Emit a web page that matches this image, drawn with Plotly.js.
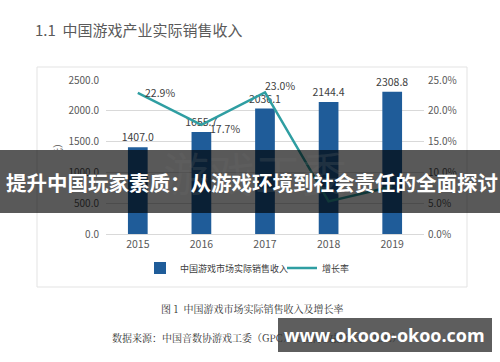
<!DOCTYPE html>
<html>
<head>
<meta charset="utf-8">
<script src="https://cdn.plot.ly/plotly-3.0.1.min.js"></script>
<style>html,body{margin:0;padding:0;background:#fff;}#chart{width:500px;height:362px;}</style>
</head>
<body>
<div id="chart"></div>
<script>
const years = ['2015', '2016', '2017', '2018', '2019'];
const revenue = [1407.0, 1655.7, 2036.1, 2144.4, 2308.8];
const growth = [0.229, 0.177, 0.230, 0.053, 0.077];
const growthLabels = ['22.9%', '17.7%', '23.0%'];
const revenueName = '中国游戏市场实际销售收入';
const growthName = '增长率';
const yTicks = [0, 500, 1000, 1500, 2000, 2500];
const y2Ticks = [0, 0.05, 0.10, 0.15, 0.20, 0.25];

const CJK = '"Noto Sans CJK SC", "Noto Sans", sans-serif';
const SERIF = '"Noto Serif CJK SC", "Noto Sans CJK SC", serif';

const traces = [
  {
    type: 'bar', x: years, y: revenue, name: revenueName,
    marker: {color: '#1f5c99'}, width: 0.31,
    text: revenue.map(v => v.toFixed(1)), textposition: 'outside', cliponaxis: false,
    constraintext: 'none',
    textfont: {family: CJK, size: 10.5, color: '#404040'},
    hoverinfo: 'skip'
  },
  {
    type: 'scatter', mode: 'lines', x: years, y: growth, name: growthName, yaxis: 'y2',
    line: {color: '#2f9ea2', width: 2.5},
    cliponaxis: false, hoverinfo: 'skip'
  }
];

const L = 106, R = 424, B = 234, T = 80;
function px2x(p) { return (p - L) / (R - L); }
function px2y(p) { return (B - p) / (B - T); }

// offsets for growth-rate labels (style only); x uses category index on the category axis
const growthLabelShift = [[5, 0], [7, -4], [-2, 7]];
const growthAnnotations = growthLabels.map((t, i) => ({
  text: t, x: years.indexOf(years[i]), y: growth[i], xref: 'x', yref: 'y2',
  xanchor: 'left', yanchor: 'middle', showarrow: false,
  xshift: growthLabelShift[i][0], yshift: growthLabelShift[i][1],
  font: {family: CJK, size: 10.5, color: '#404040'}
}));

const layout = {
  width: 500, height: 362,
  margin: {l: L, r: 500 - R, t: T, b: 362 - B},
  paper_bgcolor: '#ffffff', plot_bgcolor: '#ffffff',
  showlegend: true,
  title: {
    text: '1.1  中国游戏产业实际销售收入',
    x: 0.07, xanchor: 'left', xref: 'container',
    y: 1 - 31 / 362, yanchor: 'middle', yref: 'container',
    font: {family: CJK, size: 15, color: '#5a5a5a'}
  },
  legend: {
    orientation: 'h', x: px2x(282), xanchor: 'center', y: px2y(268), yanchor: 'middle',
    font: {family: CJK, size: 9, color: '#404040'}, itemwidth: 30, tracegroupgap: 0,
    entrywidth: 97, entrywidthmode: 'pixels'
  },
  xaxis: {
    type: 'category', categoryarray: years, range: [-0.5, 4.5],
    showgrid: false, showline: true, linecolor: '#d9d9d9', linewidth: 1,
    ticks: '', tickfont: {family: CJK, size: 10.5, color: '#595959'}
  },
  yaxis: {
    range: [0, 2500], tickvals: yTicks, ticktext: yTicks.map(v => v.toFixed(1)),
    showgrid: true, gridcolor: '#d9d9d9', gridwidth: 1, zeroline: false,
    tickfont: {family: CJK, size: 10, color: '#595959'}, ticklabelstandoff: 6
  },
  yaxis2: {
    overlaying: 'y', side: 'right', range: [0, 0.25], tickvals: y2Ticks,
    ticktext: y2Ticks.map(v => (v * 100).toFixed(1) + '%'),
    showgrid: false, zeroline: false,
    tickfont: {family: CJK, size: 10, color: '#595959'}, ticklabelstandoff: 3
  },
  shapes: [
    {type: 'rect', xref: 'paper', yref: 'paper', x0: px2x(37), x1: px2x(467), y0: px2y(67), y1: px2y(287),
     line: {color: '#e3e3e3', width: 1}, fillcolor: 'rgba(0,0,0,0)', layer: 'below'},
    {type: 'rect', xref: 'paper', yref: 'paper', x0: px2x(-5), x1: px2x(505), y0: px2y(150), y1: px2y(213),
     line: {width: 0}, fillcolor: 'rgba(0,0,0,0.65)', layer: 'above'},
    {type: 'rect', xref: 'paper', yref: 'paper', x0: px2x(278), x1: px2x(492), y0: px2y(318), y1: px2y(352),
     line: {width: 0}, fillcolor: 'rgba(0,0,0,0.63)', layer: 'above'}
  ],
  annotations: growthAnnotations.concat([
    {text: '游戏工委', xref: 'paper', yref: 'paper', x: px2x(255), y: px2y(171),
     xanchor: 'center', yanchor: 'middle', showarrow: false,
     font: {family: CJK, size: 46, color: 'rgba(110,110,110,0.22)'}},
    {text: '（亿元）', xref: 'paper', yref: 'paper', x: px2x(57), y: px2y(158),
     xanchor: 'center', yanchor: 'middle', showarrow: false,
     textangle: -90, font: {family: CJK, size: 10, color: '#595959'}},
    {text: '提升中国玩家素质：从游戏环境到社会责任的全面探讨', xref: 'paper', yref: 'paper',
     x: px2x(252), y: px2y(182), xanchor: 'center', yanchor: 'middle', showarrow: false,
     font: {family: CJK, size: 20.5, color: '#ffffff', weight: 'bold'}},
    {text: '图 1  中国游戏市场实际销售收入及增长率', xref: 'paper', yref: 'paper',
     x: px2x(252), y: px2y(308), xanchor: 'center', yanchor: 'middle', showarrow: false,
     font: {family: SERIF, size: 10, color: '#333333'}},
    {text: '数据来源：中国音数协游戏工委（GPC）& 国际数据公司（IDC）', xref: 'paper', yref: 'paper',
     x: px2x(110), xanchor: 'left', y: px2y(337), yanchor: 'middle', showarrow: false,
     font: {family: SERIF, size: 10, color: '#333333'}},
    {text: 'www.okooo-okoo.com', xref: 'paper', yref: 'paper',
     x: px2x(384), y: px2y(335), xanchor: 'center', yanchor: 'middle', showarrow: false,
     font: {family: '"Open Sans", "DejaVu Sans", sans-serif', size: 18, color: '#ffffff', weight: 'bold'}}
  ])
};

Plotly.newPlot('chart', traces, layout, {staticPlot: true, displayModeBar: false});
</script>
</body>
</html>
